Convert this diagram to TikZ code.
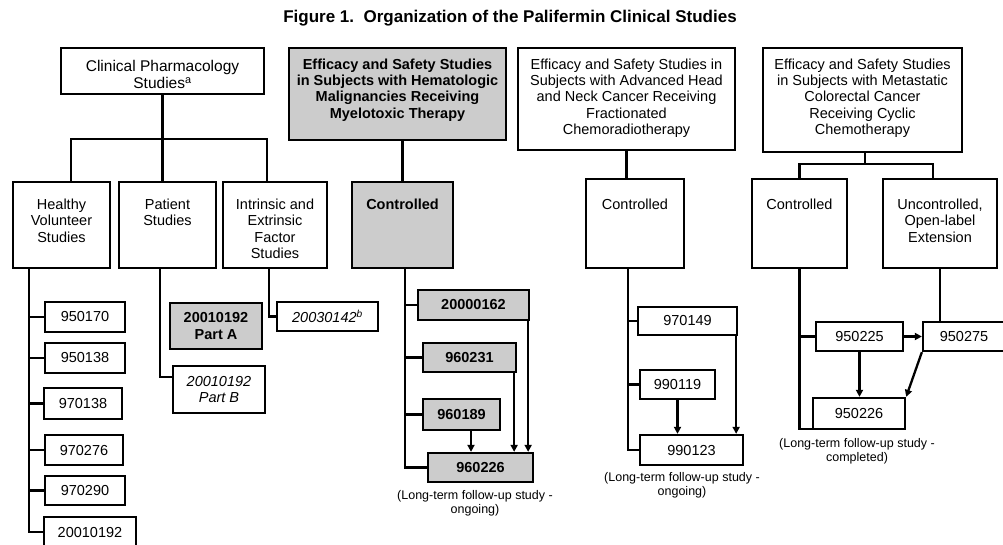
\documentclass[tikz,border=0pt]{standalone}
\usepackage{fontspec}
\setmainfont{Liberation Sans}
\usetikzlibrary{arrows.meta,calc}
\begin{document}
\begin{tikzpicture}[x=1pt,y=-1pt,
  box/.style={draw=black, line width=2.3pt, inner sep=0pt, align=center, font=\fontsize{14.5}{16.3}\selectfont},
  shadebox/.style={fill=black!20},
  boldtxt/.style={font=\bfseries\fontsize{14.5}{16.3}\selectfont},
  tl/.style={anchor=north, inner sep=0pt, align=center, font=\fontsize{14.5}{16.5}\selectfont},
  conn/.style={line width=2.3pt},
  arr/.style={line width=2.3pt, -{Triangle[length=7pt,width=7pt]}},
  captxt/.style={anchor=north, inner sep=0pt, align=center, font=\fontsize{12.5}{14}\selectfont},
]
\useasboundingbox (0,0) rectangle (1003,544);

\node[font=\bfseries\fontsize{17}{19}\selectfont] (title) at (510,18) {Figure 1.\ \ Organization of the Palifermin Clinical Studies};

% header boxes
\node[box, minimum width=203, minimum height=46, label={[tl,yshift=-13.6pt,font=\fontsize{15.5}{16.5}\selectfont]north:Clinical Pharmacology\\Studies\textsuperscript{a}}] (clin) at (162.5,71) {};
\node[box, shadebox, minimum width=217, minimum height=92, label={[tl,yshift=-11.6pt,font=\bfseries\fontsize{14.5}{16.3}\selectfont]north:Efficacy and Safety Studies\\in Subjects with Hematologic\\Malignancies Receiving\\Myelotoxic Therapy}] (hem) at (397.5,94) {};
\node[box, minimum width=217, minimum height=102, label={[tl,yshift=-11.6pt,font=\fontsize{14.5}{16.3}\selectfont]north:Efficacy and Safety Studies in\\Subjects with Advanced Head\\and Neck Cancer Receiving\\Fractionated\\Chemoradiotherapy}] (nhead) at (626.5,99) {};
\node[box, minimum width=199, minimum height=104, label={[tl,yshift=-11.6pt,font=\fontsize{14.5}{16.3}\selectfont]north:Efficacy and Safety Studies\\in Subjects with Metastatic\\Colorectal Cancer\\Receiving Cyclic\\Chemotherapy}] (crc) at (862.5,100) {};

% second row
\node[box, minimum width=97, minimum height=86, label={[tl,yshift=-17.6pt]north:Healthy\\Volunteer\\Studies}] (hv) at (61.5,225) {};
\node[box, minimum width=97, minimum height=86, label={[tl,yshift=-17.6pt]north:Patient\\Studies}] (pat) at (167.5,225) {};
\node[box, minimum width=104, minimum height=86, label={[tl,yshift=-17.6pt]north:Intrinsic and\\Extrinsic\\Factor\\Studies}] (intr) at (275,225) {};
\node[box, shadebox, minimum width=101, minimum height=86, label={[tl,yshift=-17.6pt,font=\bfseries\fontsize{14.5}{16.5}\selectfont]north:Controlled}] (hctl) at (402.5,225) {};
\node[box, minimum width=98, minimum height=89, label={[tl,yshift=-20.6pt]north:Controlled}] (nctl) at (635,223.5) {};
\node[box, minimum width=95, minimum height=89, label={[tl,yshift=-20.6pt]north:Controlled}] (cctl) at (799.5,223.5) {};
\node[box, minimum width=114, minimum height=89, label={[tl,yshift=-20.6pt]north:{Uncontrolled,\\Open-label\\Extension}}] (unc) at (940,223.5) {};

% healthy volunteer studies
\node[box, minimum width=80, minimum height=30] (s950170) at (85,317) {950170};
\node[box, minimum width=80, minimum height=30] (s950138) at (85,358) {950138};
\node[box, minimum width=78, minimum height=31] (s970138) at (83,403.5) {970138};
\node[box, minimum width=78, minimum height=30] (s970276) at (84,450) {970276};
\node[box, minimum width=80, minimum height=29] (s970290) at (85,490.5) {970290};
\node[box, minimum width=92, minimum height=30] (s20010192) at (90,532) {20010192};

% patient studies
\node[box, shadebox, boldtxt, minimum width=92, minimum height=46] (pA) at (216,326) {20010192\\Part A};
\node[box, font=\itshape\fontsize{14.5}{16.3}\selectfont, minimum width=92, minimum height=47] (pB) at (219,389.5) {20010192\\Part B};

% intrinsic
\node[box, font=\itshape\fontsize{14.5}{16.3}\selectfont, minimum width=101, minimum height=29] (i142) at (327.5,316.5) {20030142\textsuperscript{b}};

% hematologic
\node[box, shadebox, boldtxt, minimum width=111, minimum height=30] (h162) at (473.5,305) {20000162};
\node[box, shadebox, boldtxt, minimum width=93, minimum height=29] (h231) at (469.5,357.5) {960231};
\node[box, shadebox, boldtxt, minimum width=77, minimum height=31] (h189) at (461.5,414.5) {960189};
\node[box, shadebox, boldtxt, minimum width=105, minimum height=29] (h226) at (480.5,467.5) {960226};

% head and neck
\node[box, minimum width=99, minimum height=28] (n149) at (687.5,321) {970149};
\node[box, minimum width=75, minimum height=29] (n119) at (677.5,384.5) {990119};
\node[box, minimum width=103, minimum height=30] (n123) at (691.5,450) {990123};

% colorectal
\node[box, minimum width=87, minimum height=29] (c225) at (859.5,336.5) {950225};
\node[box, minimum width=82, minimum height=29] (c275) at (964,336.5) {950275};
\node[box, minimum width=92, minimum height=31] (c226) at (859,413.5) {950226};

% captions
\node[captxt] (cap1) at (475,490) {(Long-term follow-up study -\\ongoing)};
\node[captxt] (cap2) at (682,472) {(Long-term follow-up study -\\ongoing)};
\node[captxt] (cap3) at (857,438) {(Long-term follow-up study -\\completed)};

% top-level connectors
\draw[conn] (clin.south) -- (clin.south |- pat.north);
\coordinate (busL) at ($(hv.north)+(9.5,-42)$);
\coordinate (busR) at ($(intr.north)+(-8,-42)$);
\draw[conn] ($(hv.north)+(9.5,0)$) -- (busL) -- (busR) -- ($(intr.north)+(-8,0)$);
\draw[conn] (hctl.north |- hem.south) -- (hctl.north);
\draw[conn] (nhead.south) -- (nhead.south |- nctl.north);
\coordinate (cb) at ($(crc.south)+(2.5,11)$);
\draw[conn] (crc.south -| cb) -- (cb);
\draw[conn] (cctl.north) |- (cb) -| ($(unc.north)+(-7,0)$);

% healthy column
\coordinate (hvs) at ($(hv.south)+(-32.5,0)$);
\draw[conn] (hvs) |- (s20010192.west);
\foreach \n in {s950170,s950138,s970138,s970276,s970290}
  \draw[conn] (\n.west) -- (\n.west -| hvs);

% patient column
\coordinate (pats) at ($(pat.south)+(-7.5,0)$);
\draw[conn] (pats) |- ($(pB.west)+(0,-12.5)$);
\draw[conn] ($(pA.west)+(0,15)$) -- ($(pA.west)+(0,15)$ -| pats);

% intrinsic column
\coordinate (ints) at ($(intr.south)+(-6,0)$);
\draw[conn] (ints) |- (i142.west);

% hematologic column
\coordinate (hs) at ($(hctl.south)+(2.5,0)$);
\draw[conn] (hs) |- (h226.west);
\foreach \n in {h162,h231,h189}
  \draw[conn] (\n.west) -- (\n.west -| hs);
\coordinate (a1) at ($(h189.south)+(9.5,0)$);
\draw[arr] (a1) -- (a1 |- h226.north);
\coordinate (a2) at ($(h231.south east)+(-3,0)$);
\draw[arr] (a2) -- (a2 |- h226.north);
\coordinate (a3) at ($(h162.south east)+(-2,0)$);
\draw[arr] (a3) -- (a3 |- h226.north);

% head and neck column
\coordinate (ns) at ($(nctl.south)+(-7,0)$);
\draw[conn] (ns) |- (n123.west);
\draw[conn] (n149.west) -- (n149.west -| ns);
\draw[conn] (n119.west) -- (n119.west -| ns);
\draw[arr] (n119.south) -- (n119.south |- n123.north);
\coordinate (a4) at ($(n149.south east)+(-2,0)$);
\draw[arr] (a4) -- (a4 |- n123.north);

% colorectal column
\draw[conn] (cctl.south) |- ($(c226.south west)+(0,-1.5)$);
\draw[conn] (c225.west) -- (c225.west -| cctl.south);
\draw[conn] (unc.south) -- (unc.south |- c275.north);
\draw[arr] (c225.east) -- (c275.west);
\draw[arr] (c225.south) -- (c225.south |- c226.north);
\draw[arr] (c275.south west) -- (c226.north east);
\end{tikzpicture}
\end{document}
